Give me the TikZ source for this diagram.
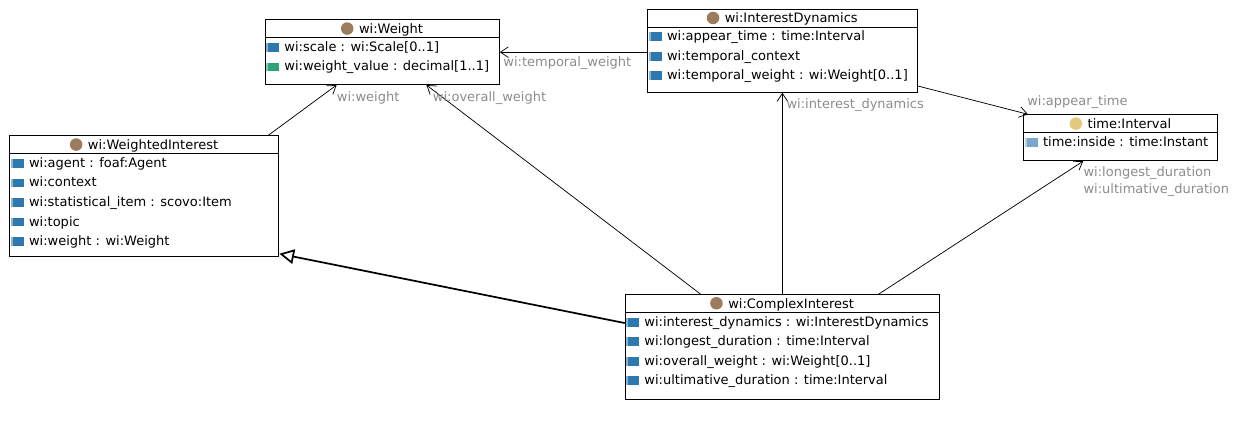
\documentclass[tikz,border=0pt]{standalone}
\usepackage{fontspec}
\setmainfont{DejaVu Sans}
\usepackage{xcolor}
\usepackage{tikz}
\usetikzlibrary{positioning, arrows.meta, calc}
\definecolor{clsbrown}{HTML}{9C7C5E}
\definecolor{timeyellow}{HTML}{E2C97E}
\definecolor{propblue}{HTML}{2E78B0}
\definecolor{propgreen}{HTML}{2CA37C}
\definecolor{proplight}{HTML}{7AA8CC}
\definecolor{lblgray}{HTML}{8C8C8C}
\newcommand{\attricon}[1]{{\color{#1!55}\rule[-0.3pt]{1.2pt}{6.6pt}}{\color{#1}\rule[-0.3pt]{8.55pt}{6.6pt}}\hspace{3.75pt}}

\begin{document}
\begin{tikzpicture}[
  x=0.75pt, y=-0.75pt,
  font=\fontsize{9.75}{13}\selectfont,
  cls/.style={rectangle, draw=black, line width=0.8pt, fill=white, inner sep=0pt, anchor=north west},
  clshead/.style={inner sep=0pt, text height=10.5pt, text depth=3pt, anchor=north},
  clsdot/.style={circle, inner sep=0pt, minimum size=9.4pt, fill=#1},
  divider/.style={line width=0.8pt},
  attr/.style={inner sep=0pt, text height=10pt, text depth=4.25pt},
  lbl/.style={inner sep=0pt, text=lblgray},
  assoc/.style={-{Straight Barb[length=6pt, width=8pt]}, line width=0.55pt},
  gen/.style={-{Triangle[open, length=11pt, width=11pt]}, line width=1.3pt}
]
  \useasboundingbox (0,0) rectangle (1242,424);

  % wi:Weight
  \node[cls, minimum width=175.5pt, minimum height=48.5pt] (weight) at (264.7,19.3) {};
  \node[clshead] (w-h) at ($(weight.north)+(8.75,0)$) {wi:Weight};
  \node[clsdot=clsbrown, left=3.75pt of w-h] (w-d) {};
  \node[attr, anchor=north west] (w-a1) at ($(weight.west |- w-h.south)+(1.5,0)$) {\attricon{propblue}wi:scale : wi:Scale[0..1]};
  \node[attr, below=0pt of w-a1.south west, anchor=north west] (w-a2) {\attricon{propgreen}wi:weight\_value : decimal[1..1]};

  % wi:WeightedInterest
  \node[cls, minimum width=201.75pt, minimum height=90.5pt] (wint) at (9.3,135.3) {};
  \node[clshead] (wi-h) at ($(wint.north)+(8.75,0)$) {wi:WeightedInterest};
  \node[clsdot=clsbrown, left=3.75pt of wi-h] (wi-d) {};
  \node[attr, anchor=north west] (wi-a1) at ($(wint.west |- wi-h.south)+(1.5,0)$) {\attricon{propblue}wi:agent : foaf:Agent};
  \node[attr, below=0pt of wi-a1.south west, anchor=north west] (wi-a2) {\attricon{propblue}wi:context};
  \node[attr, below=0pt of wi-a2.south west, anchor=north west] (wi-a3) {\attricon{propblue}wi:statistical\_item : scovo:Item};
  \node[attr, below=0pt of wi-a3.south west, anchor=north west] (wi-a4) {\attricon{propblue}wi:topic};
  \node[attr, below=0pt of wi-a4.south west, anchor=north west] (wi-a5) {\attricon{propblue}wi:weight : wi:Weight};

  % wi:InterestDynamics
  \node[cls, minimum width=202pt, minimum height=62.25pt] (idyn) at (647.3,8.7) {};
  \node[clshead] (id-h) at ($(idyn.north)+(8.75,0)$) {wi:InterestDynamics};
  \node[clsdot=clsbrown, left=3.75pt of id-h] (id-d) {};
  \node[attr, anchor=north west] (id-a1) at ($(idyn.west |- id-h.south)+(1.5,0)$) {\attricon{propblue}wi:appear\_time : time:Interval};
  \node[attr, below=0pt of id-a1.south west, anchor=north west] (id-a2) {\attricon{propblue}wi:temporal\_context};
  \node[attr, below=0pt of id-a2.south west, anchor=north west] (id-a3) {\attricon{propblue}wi:temporal\_weight : wi:Weight[0..1]};

  % time:Interval
  \node[cls, minimum width=145.3pt, minimum height=34.3pt] (ival) at (1023.3,114.3) {};
  \node[clshead] (iv-h) at ($(ival.north)+(8.75,0)$) {time:Interval};
  \node[clsdot=timeyellow, left=3.75pt of iv-h] (iv-d) {};
  \node[attr, anchor=north west] (iv-a1) at ($(ival.west |- iv-h.south)+(1.5,0)$) {\attricon{proplight}time:inside : time:Instant};

  % wi:ComplexInterest
  \node[cls, minimum width=235.7pt, minimum height=78.4pt] (cint) at (624.7,294) {};
  \node[clshead] (ci-h) at ($(cint.north)+(8.75,0)$) {wi:ComplexInterest};
  \node[clsdot=clsbrown, left=3.75pt of ci-h] (ci-d) {};
  \node[attr, anchor=north west] (ci-a1) at ($(cint.west |- ci-h.south)+(1.5,0)$) {\attricon{propblue}wi:interest\_dynamics : wi:InterestDynamics};
  \node[attr, below=0pt of ci-a1.south west, anchor=north west] (ci-a2) {\attricon{propblue}wi:longest\_duration : time:Interval};
  \node[attr, below=0pt of ci-a2.south west, anchor=north west] (ci-a3) {\attricon{propblue}wi:overall\_weight : wi:Weight[0..1]};
  \node[attr, below=0pt of ci-a3.south west, anchor=north west] (ci-a4) {\attricon{propblue}wi:ultimative\_duration : time:Interval};

  % header rules
  \draw[divider] (weight.west |- w-h.south) -- (weight.east |- w-h.south);
  \draw[divider] (wint.west |- wi-h.south) -- (wint.east |- wi-h.south);
  \draw[divider] (idyn.west |- id-h.south) -- (idyn.east |- id-h.south);
  \draw[divider] (ival.west |- iv-h.south) -- (ival.east |- iv-h.south);
  \draw[divider] (cint.west |- ci-h.south) -- (cint.east |- ci-h.south);

  % attach points
  \coordinate (wgt-a) at ($(weight.south west)!0.306!(weight.south east)$);
  \coordinate (wgt-b) at ($(weight.south west)!0.688!(weight.south east)$);
  \coordinate (wint-t) at ($(wint.north west)!0.959!(wint.north east)$);
  \coordinate (wint-e) at ($(wint.north east)!0.973!(wint.south east)$);
  \coordinate (idyn-e) at ($(idyn.north east)!0.919!(idyn.south east)$);
  \coordinate (ival-t) at ($(ival.north west)!0.024!(ival.north east)$);
  \coordinate (ival-b) at ($(ival.south west)!0.308!(ival.south east)$);
  \coordinate (cint-a) at ($(cint.north west)!0.24!(cint.north east)$);
  \coordinate (cint-b) at ($(cint.north west)!0.806!(cint.north east)$);
  \coordinate (cint-w) at ($(cint.north west)!0.275!(cint.south west)$);

  \draw[assoc] (wint-t) -- (wgt-a);
  \draw[assoc] (idyn.west |- weight.east) -- (weight.east);
  \draw[assoc] (idyn-e) -- (ival-t);
  \draw[assoc] (cint-a) -- (wgt-b);
  \draw[assoc] (cint.north) -- (cint.north |- idyn.south);
  \draw[assoc] (cint-b) -- (ival-b);
  \draw[gen] (cint-w) -- (wint-e);

  % role labels
  \node[lbl, below right=5pt and 0pt of wgt-a] (l-w) {wi:weight};
  \node[lbl, below right=5pt and 4.7pt of wgt-b] (l-ow) {wi:overall\_weight};
  \node[lbl, below right=3.3pt and 2.5pt of weight.east] (l-tw) {wi:temporal\_weight};
  \node[lbl, below right=4.2pt and 2.8pt of idyn.south] (l-id) {wi:interest\_dynamics};
  \node[lbl, above right=4pt and 2.8pt of ival.north west] (l-at) {wi:appear\_time};
  \node[lbl, align=left, below right=4pt and 0pt of ival-b] (l-ld) {wi:longest\_duration\\wi:ultimative\_duration};
\end{tikzpicture}
\end{document}
